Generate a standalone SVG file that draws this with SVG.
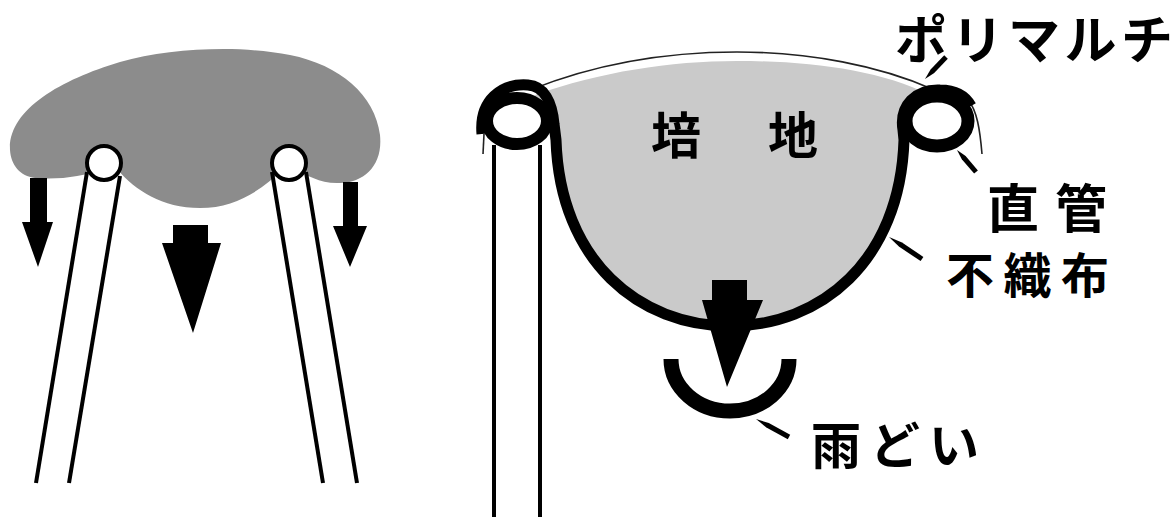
<svg xmlns="http://www.w3.org/2000/svg" width="1176" height="517" viewBox="0 0 1176 517">
  <style>
    .lbl { font-family: "Noto Sans CJK JP", "Noto Sans CJK SC", sans-serif; font-weight: bold; fill: #000; }
    .pipe { stroke: #000; stroke-width: 4; fill: none; }
    .ring { stroke: #000; fill: #fff; }
    .thick { stroke: #000; fill: none; stroke-linecap: butt; stroke-linejoin: round; }
    .mulch { stroke: #222; stroke-width: 1.6; fill: none; }
    .arrow { fill: #000; }
  </style>
  <rect width="1176" height="517" fill="#fff"/>

  <!-- Left view: soil mound resting on two pipes -->
  <g id="mound">
    <path d="M 10 150 C 8 110, 60 80, 120 62 C 170 48, 240 45, 290 55 C 340 65, 375 95, 380 135 C 383 165, 365 182, 340 183 C 320 184, 308 175, 295 170 L 282 170 C 262 190, 235 208, 200 208 C 162 208, 135 190, 118 170 L 100 170 C 85 176, 60 180, 35 178 C 20 176, 11 165, 10 150 Z" fill="#8c8c8c"/>
  </g>
  <g id="left-pipe-a">
    <line class="pipe" x1="87" y1="172" x2="36" y2="483"/>
    <line class="pipe" x1="120" y1="176" x2="69" y2="483"/>
    <circle class="ring" cx="104" cy="163" r="17" stroke-width="4"/>
  </g>
  <g id="left-pipe-b">
    <line class="pipe" x1="272" y1="172" x2="323" y2="483"/>
    <line class="pipe" x1="306" y1="172" x2="357" y2="483"/>
    <circle class="ring" cx="289" cy="163" r="17" stroke-width="4"/>
  </g>
  <g id="left-flow">
    <polygon class="arrow" points="30,178 47,178 47,222 53,222 38,267 22,222 30,222"/>
    <polygon class="arrow" points="343,182 358,182 358,226 367,226 350,267 333,226 343,226"/>
    <polygon class="arrow" points="173,225 208,225 208,243 221,243 193,333 162,243 173,243"/>
  </g>

  <!-- Right view: cross-section of the bed -->
  <g id="medium">
    <path d="M 535 95 C 600 72, 670 61, 737 61 C 810 61, 880 70, 930 95 L 904 140 C 900 262, 820 326, 730 326 C 640 326, 560 262, 556 140 Z" fill="#cacaca"/>
  </g>
  <g id="pipe-left">
    <line class="pipe" x1="494" y1="145" x2="494" y2="517" stroke-width="5"/>
    <line class="pipe" x1="540" y1="145" x2="540" y2="517" stroke-width="5"/>
    <ellipse class="ring" cx="517" cy="121" rx="30" ry="23" stroke-width="12"/>
  </g>
  <g id="pipe-right">
    <ellipse class="ring" cx="937" cy="121" rx="31" ry="25" stroke-width="13"/>
  </g>
  <g id="polymulch">
    <path class="mulch" d="M 483 154 L 484 134"/>
    <path class="mulch" d="M 530 90 C 600 62, 670 52, 737 52 C 810 52, 880 66, 932 89"/>
    <path class="mulch" d="M 968 100 C 977 110, 980 130, 982 154"/>
  </g>
  <g id="fabric">
    <path class="thick" stroke-width="11" d="M 482 134 C 479 100, 502 83, 528 85 C 544 86, 552 102, 554 124 L 556 140 C 560 262, 640 326, 730 326 C 820 326, 900 262, 904 140 L 903 130 C 899 105, 916 89, 940 90 C 956 90, 966 97, 971 106"/>
  </g>
  <g id="gutter">
    <path class="thick" stroke-width="15" d="M 671 359 A 59 52 0 0 0 789 359"/>
  </g>
  <g id="drain-arrow">
    <polygon class="arrow" points="712,280 747,280 747,300 763,300 727,387 702,300 712,300"/>
  </g>

  <!-- Leader lines -->
  <g id="connectors">
    <polygon class="arrow" points="925,79 934.2,73.0 947.8,58.7 944.2,55.3 930.6,69.6"/>
    <polygon class="arrow" points="957,150 961.8,159.3 974.1,173.6 977.9,170.4 965.6,156.1"/>
    <polygon class="arrow" points="889,237 899.2,246.8 920.6,261.1 923.4,256.9 902.0,242.6"/>
    <polygon class="arrow" points="756,419 766.4,427.5 787.8,439.2 790.2,434.8 768.8,423.1"/>
  </g>

  <g id="labels">
    <text id="label-medium" class="lbl" font-size="50" letter-spacing="67" x="651" y="154">培地</text>
    <text id="label-mulch" class="lbl" font-size="52" letter-spacing="4.5" x="895" y="59">ポリマルチ</text>
    <text id="label-pipe" class="lbl" font-size="52" letter-spacing="16" x="987" y="228">直管</text>
    <text id="label-fabric" class="lbl" font-size="48" letter-spacing="9.5" x="946" y="293">不織布</text>
    <text id="label-gutter" class="lbl" font-size="50" letter-spacing="9" x="811" y="464">雨どい</text>
  </g>
</svg>
